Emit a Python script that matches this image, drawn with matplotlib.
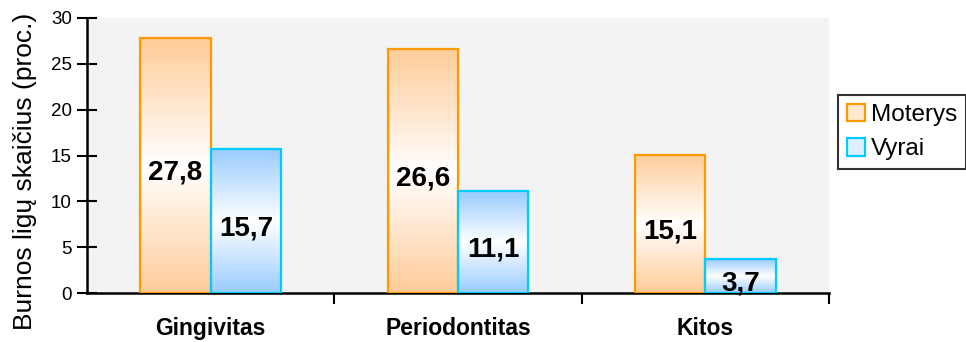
import numpy as np
import matplotlib
matplotlib.use("Agg")
import matplotlib.pyplot as plt
from matplotlib.colors import LinearSegmentedColormap
from matplotlib.patches import Patch

plt.rcParams['font.family'] = ['Liberation Sans', 'DejaVu Sans']

categories = ["Gingivitas", "Periodontitas", "Kitos"]
moterys = [27.8, 26.6, 15.1]
vyrai = [15.7, 11.1, 3.7]
series_names = ["Moterys", "Vyrai"]
yticks_vals = [0, 5, 10, 15, 20, 25, 30]

orange_edge, orange_fill = "#FF9900", "#FFCC99"
blue_edge, blue_fill = "#00CCFF", "#99CCFF"

fig = plt.figure(figsize=(9.66, 3.42), dpi=100, facecolor="white")
ax = fig.add_axes([87/966, 1-293/342, (829-87)/966, (293-18)/342])
ax.set_facecolor("#F3F3F3")

x = np.arange(len(categories))
w = 0.285
grad = np.linspace(0, 1, 256).reshape(-1, 1)

def gradient_bars(xpos, vals, fill, edge):
    cmap = LinearSegmentedColormap.from_list("g", [(0, fill), (0.5, "white"), (1, fill)])
    bars = ax.bar(xpos, vals, w, facecolor="none", edgecolor=edge, linewidth=1.6, zorder=3)
    for r in bars:
        x0, y0 = r.get_x(), r.get_y()
        ax.imshow(grad, extent=[x0, x0 + r.get_width(), y0, y0 + r.get_height()],
                  origin="lower", aspect="auto", cmap=cmap, zorder=2)
    for xx, v in zip(xpos, vals):
        ax.text(xx, v/2 - 0.8, f"{v:.1f}".replace(".", ","), ha="center", va="center",
                fontsize=20, fontweight="bold", zorder=4)
    return bars

gradient_bars(x - w/2, moterys, orange_fill, orange_edge)
gradient_bars(x + w/2, vyrai, blue_fill, blue_edge)

ax.set_xlim(-0.5, 2.5)
ax.set_ylim(0, 30)
ax.set_yticks(yticks_vals)
ax.tick_params(axis="y", direction="inout", length=14, width=1.5, labelsize=13.5, pad=4)

ax.set_xticks([0.5, 1.5, 2.5])
ax.set_xticklabels([])
ax.tick_params(axis="x", which="major", direction="out", length=8, width=1.5)
ax.set_xticks(x, minor=True)
ax.set_xticklabels(categories, minor=True, fontsize=16.5, fontweight="bold")
ax.tick_params(axis="x", which="minor", length=0, pad=17)

for s in ["top", "right"]:
    ax.spines[s].set_visible(False)
for s in ["left", "bottom"]:
    ax.spines[s].set_linewidth(1.8)

ax.set_ylabel("Burnos ligų skaičius (proc.)", fontsize=19)
ax.yaxis.set_label_coords((37 - 87) / 742, (293 - 171) / 275)

handles = [Patch(facecolor="#FFE8D2", edgecolor=orange_edge, linewidth=1.6),
           Patch(facecolor="#DDEEFF", edgecolor=blue_edge, linewidth=1.6)]
leg = fig.legend(handles, series_names, loc="center left", bbox_to_anchor=(838/966, 1-132/342),
                 fontsize=17.5, frameon=True, fancybox=False, edgecolor="black",
                 handlelength=0.75, handleheight=0.75, handletextpad=0.25,
                 borderpad=0.35, labelspacing=0.5, borderaxespad=0)
leg.get_frame().set_linewidth(1.5)

fig.savefig("out.png", dpi=100)
